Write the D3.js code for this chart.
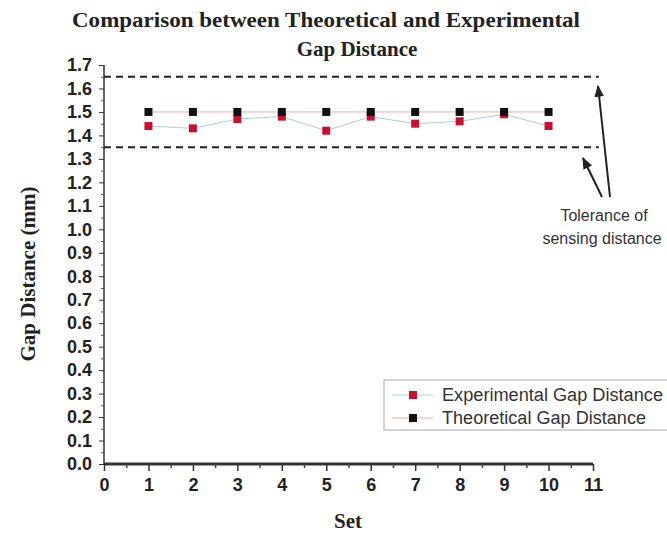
<!DOCTYPE html>
<html><head><meta charset="utf-8">
<script src="https://cdn.jsdelivr.net/npm/d3@7"></script>
<style>body{margin:0;background:#fff}</style>
</head><body><svg id="c" width="667" height="540"></svg>
<script>
const sets = [1,2,3,4,5,6,7,8,9,10];
const experimental = [1.44,1.43,1.47,1.48,1.42,1.48,1.45,1.46,1.49,1.44];
const theoretical = [1.5,1.5,1.5,1.5,1.5,1.5,1.5,1.5,1.5,1.5];
const toleranceLevels = [1.65,1.35];
const toleranceXRange = [0,11.13];
const xTicks = [0,1,2,3,4,5,6,7,8,9,10,11];
const yTicks = d3.range(0,18).map(i=>+(i/10).toFixed(1));
const titleLines = ["Comparison between Theoretical and Experimental","Gap Distance"];
const legendLabels = ["Experimental Gap Distance","Theoretical Gap Distance"];

const svg = d3.select("#c");
const x = d3.scaleLinear().domain([0,11]).range([104,593]);
const y = d3.scaleLinear().domain([0,1.7]).range([464,65]);
const serif = "'Liberation Serif','Times New Roman',serif";
const sans = "'Liberation Sans',Arial,sans-serif";

// title
svg.append("text").attr("x",326).attr("y",27).attr("text-anchor","middle")
  .attr("font-family",serif).attr("font-weight","bold").attr("font-size",21).attr("fill","#222")
  .attr("textLength",508).attr("lengthAdjust","spacingAndGlyphs").text(titleLines[0]);
svg.append("text").attr("x",357).attr("y",56).attr("text-anchor","middle")
  .attr("font-family",serif).attr("font-weight","bold").attr("font-size",21).attr("fill","#222").text(titleLines[1]);

// y axis
const yAx = svg.append("g").attr("transform","translate(104,0)")
  .call(d3.axisLeft(y).tickValues(yTicks).tickFormat(d3.format(".1f")).tickSize(5).tickPadding(7));
yAx.select(".domain").attr("stroke","#333").attr("stroke-width",1.5).attr("d","M0,65V464");
yAx.selectAll("text").attr("font-family",sans).attr("font-weight","bold").attr("font-size",18).attr("fill","#222");
yAx.selectAll("line").attr("stroke","#333");
svg.append("g").attr("transform","translate(104,0)")
  .call(d3.axisLeft(y).tickValues(yTicks.slice(0,-1).map(v=>v+0.05)).tickFormat("").tickSize(3))
  .call(g=>g.select(".domain").remove()).selectAll("line").attr("stroke","#555");

// x axis
const xAx = svg.append("g").attr("transform","translate(0,464)")
  .call(d3.axisBottom(x).tickValues(xTicks).tickSize(7).tickPadding(7));
xAx.select(".domain").attr("stroke","#333").attr("stroke-width",3).attr("d","M104,0H593");
xAx.selectAll("line").attr("stroke","#333").attr("stroke-width",1.5);
xAx.selectAll("text").attr("font-family",sans).attr("font-weight","bold").attr("font-size",18).attr("fill","#222");
svg.append("g").attr("transform","translate(0,464)")
  .call(d3.axisBottom(x).tickValues(xTicks.slice(0,-1).map(v=>v+0.5)).tickFormat("").tickSize(4))
  .call(g=>g.select(".domain").remove()).selectAll("line").attr("stroke","#444").attr("stroke-width",1.5);

// axis titles
svg.append("text").attr("transform","translate(35,274) rotate(-90)").attr("text-anchor","middle")
  .attr("font-family",serif).attr("font-weight","bold").attr("font-size",21).attr("fill","#222").text("Gap Distance (mm)");
svg.append("text").attr("x",348).attr("y",528).attr("text-anchor","middle")
  .attr("font-family",serif).attr("font-weight","bold").attr("font-size",21).attr("fill","#222").text("Set");

// tolerance lines
toleranceLevels.forEach(v=>{
  svg.append("line").attr("x1",x(toleranceXRange[0])).attr("x2",x(toleranceXRange[1]))
    .attr("y1",y(v)).attr("y2",y(v)).attr("stroke","#222").attr("stroke-width",2).attr("stroke-dasharray","7,5");
});

// series lines
const line = d3.line().x((d,i)=>x(sets[i])).y(d=>y(d));
svg.append("path").datum(theoretical).attr("d",line).attr("fill","none").attr("stroke","#f3a7a7").attr("stroke-width",1);
svg.append("path").datum(experimental).attr("d",line).attr("fill","none").attr("stroke","#a9cfd6").attr("stroke-width",1);

// markers
const ms = 8;
svg.selectAll(".e").data(experimental).join("rect").attr("x",(d,i)=>x(sets[i])-ms/2).attr("y",d=>y(d)-ms/2)
  .attr("width",ms).attr("height",ms).attr("fill","#c8102e");
svg.selectAll(".t").data(theoretical).join("rect").attr("x",(d,i)=>x(sets[i])-ms/2).attr("y",d=>y(d)-ms/2)
  .attr("width",ms).attr("height",ms).attr("fill","#111");

// annotation
const defs = svg.append("defs");
defs.append("marker").attr("id","ah").attr("viewBox","0 0 10 10").attr("refX",9).attr("refY",5)
  .attr("markerWidth",6).attr("markerHeight",8).attr("orient","auto")
  .append("path").attr("d","M0,1L10,5L0,9Z").attr("fill","#222");
svg.append("line").attr("x1",610).attr("y1",197).attr("x2",598).attr("y2",86)
  .attr("stroke","#222").attr("stroke-width",2).attr("marker-end","url(#ah)");
svg.append("line").attr("x1",602).attr("y1",197).attr("x2",583).attr("y2",158)
  .attr("stroke","#222").attr("stroke-width",2).attr("marker-end","url(#ah)");
svg.append("text").attr("x",604).attr("y",221).attr("text-anchor","middle").attr("font-family",sans)
  .attr("font-size",16).attr("fill","#333").text("Tolerance of");
svg.append("text").attr("x",602).attr("y",244).attr("text-anchor","middle").attr("font-family",sans)
  .attr("font-size",16).attr("fill","#333").text("sensing distance");

// legend
const lg = svg.append("g");
lg.append("rect").attr("x",384).attr("y",380).attr("width",290).attr("height",50)
  .attr("fill","#fff").attr("stroke","#aaa").attr("stroke-width",1);
const legendColors = [["#c8102e","#a9cfd6"],["#111","#f3a7a7"]];
const legendWidths = [221,204];
legendLabels.forEach((t,i)=>{
  const yy = 395 + i*23;
  lg.append("line").attr("x1",392).attr("x2",433).attr("y1",yy).attr("y2",yy).attr("stroke",legendColors[i][1]);
  lg.append("rect").attr("x",409).attr("y",yy-4).attr("width",8).attr("height",8).attr("fill",legendColors[i][0]);
  lg.append("text").attr("x",442).attr("y",yy+6).attr("font-family",sans).attr("font-size",18).attr("fill","#333")
    .attr("textLength",legendWidths[i]).attr("lengthAdjust","spacingAndGlyphs").text(t);
});
</script></body></html>
